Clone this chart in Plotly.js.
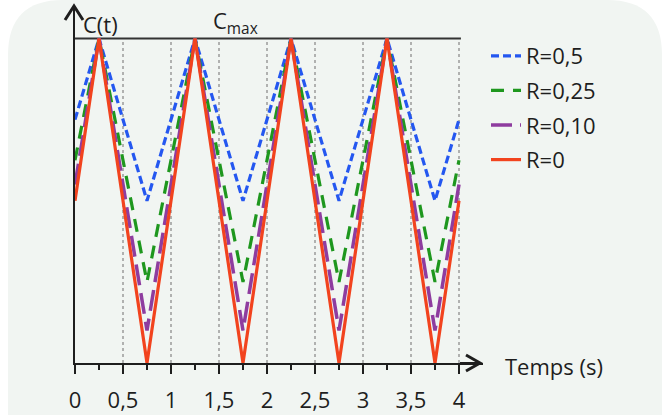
<!DOCTYPE html>
<html>
<head>
<meta charset="utf-8">
<script src="https://cdn.plot.ly/plotly-3.0.1.min.js"></script>
<style>html,body{margin:0;padding:0;background:#fff;}#chart{width:667px;height:418px;}</style>
</head>
<body>
<div id="chart"></div>
<script>
// ---- data ----
const timeS = [0, 0.25, 0.75, 1.25, 1.75, 2.25, 2.75, 3.25, 3.75, 4];
const cR050 = [0.75, 1, 0.5, 1, 0.5, 1, 0.5, 1, 0.5, 0.75];
const cR025 = [0.625, 1, 0.25, 1, 0.25, 1, 0.25, 1, 0.25, 0.625];
const cR010 = [0.55, 1, 0.1, 1, 0.1, 1, 0.1, 1, 0.1, 0.55];
const cR000 = [0.5, 1, 0, 1, 0, 1, 0, 1, 0, 0.5];
const seriesNames = ['R=0,5', 'R=0,25', 'R=0,10', 'R=0'];
const tickVals = [0, 0.5, 1, 1.5, 2, 2.5, 3, 3.5, 4];
const tickLabels = ['0', '0,5', '1', '1,5', '2', '2,5', '3', '3,5', '4'];
const minorVals = [0.25, 0.75, 1.25, 1.75, 2.25, 2.75, 3.25, 3.75];
const gridVals = [0.5, 1, 1.5, 2, 2.5, 3, 3.5, 4];
const cMax = 1;

// ---- layout geometry (pixels) ----
const W = 667, H = 418;
const L = 75, T = 5, PW = 408, PH = 358;
const X = p => (p - L) / PW;
const Y = p => (T + PH - p) / PH;
const FONT = 'Open Sans, sans-serif';
const INK = '#1e1e1e';

const traces = [
  {x: timeS, y: cR050, name: seriesNames[0], line: {color: '#2457F0', width: 3.2, dash: '8px,4px'}},
  {x: timeS, y: cR025, name: seriesNames[1], line: {color: '#1E971E', width: 3.2, dash: '13px,9px'}},
  {x: timeS, y: cR010, name: seriesNames[2], line: {color: '#8E3C9F', width: 3.5, dash: '21px,8px'}},
  {x: timeS, y: cR000, name: seriesNames[3], line: {color: '#F2431E', width: 3.2}}
].map((t, i) => Object.assign(t, {type: 'scatter', mode: 'lines', legendgroup: 'g' + i, hoverinfo: 'skip'}));

function cardPath() {
  const x0 = X(8), x1 = X(662), y0 = Y(0), y1 = Y(415);
  const rx = 55 / PW, ry = 55 / PH;
  return `M${x0},${y1} L${x0},${y0 - ry} Q${x0},${y0} ${x0 + rx},${y0} L${x1 - rx},${y0} Q${x1},${y0} ${x1},${y0 - ry} L${x1},${y1} Z`;
}

const shapes = [
  {type: 'path', xref: 'paper', yref: 'paper', path: cardPath(), fillcolor: '#F1F5F2', line: {width: 0}, layer: 'below'}
];
gridVals.forEach(v => shapes.push({type: 'line', xref: 'x', yref: 'y', x0: v, x1: v, y0: 0, y1: cMax,
  line: {color: '#9a9a9a', width: 1.5, dash: 'dot'}, layer: 'below'}));
shapes.push({type: 'line', xref: 'x', yref: 'y', x0: 0, x1: 4.02, y0: cMax, y1: cMax, line: {color: '#333', width: 2}, layer: 'below'});
// arrow heads
shapes.push({type: 'path', xref: 'paper', yref: 'paper',
  path: `M${X(65)},${Y(20)} L${X(74)},${Y(6)} L${X(83)},${Y(20)}`, line: {color: INK, width: 3}});
shapes.push({type: 'path', xref: 'paper', yref: 'paper',
  path: `M${X(466)},${Y(355)} L${X(480)},${Y(363)} L${X(466)},${Y(371)}`, line: {color: INK, width: 3}});
shapes.push({type: 'line', xref: 'paper', yref: 'paper', x0: X(460), x1: X(479), y0: Y(363), y1: Y(363), line: {color: INK, width: 2}});

const annotations = [
  {xref: 'paper', yref: 'paper', x: X(81), y: Y(24), xanchor: 'left', yanchor: 'middle', text: 'C(t)', showarrow: false, font: {family: FONT, size: 22, color: INK}},
  {xref: 'paper', yref: 'paper', x: X(211), y: Y(22), xanchor: 'left', yanchor: 'middle', text: 'C<sub>max</sub>', showarrow: false, font: {family: FONT, size: 22, color: INK}},
  {xref: 'paper', yref: 'paper', x: X(503), y: Y(366), xanchor: 'left', yanchor: 'middle', text: 'Temps (s)', showarrow: false, font: {family: FONT, size: 22, color: INK}}
];

const layout = {
  width: W, height: H,
  margin: {l: L, t: T, r: W - L - PW, b: H - T - PH, pad: 0},
  paper_bgcolor: '#ffffff', plot_bgcolor: 'rgba(0,0,0,0)',
  font: {family: FONT, size: 22, color: INK},
  showlegend: true,
  legend: {x: X(486), y: Y(35), xanchor: 'left', yanchor: 'top', bgcolor: 'rgba(0,0,0,0)',
    font: {family: FONT, size: 22, color: INK}, traceorder: 'grouped', tracegroupgap: 3, itemclick: false},
  xaxis: {range: [0, PW / 96], showgrid: false, zeroline: false, showline: true, linecolor: INK, linewidth: 2,
    tickmode: 'array', tickvals: tickVals, ticktext: tickLabels, ticks: 'outside', ticklen: 9, tickwidth: 2, tickcolor: INK,
    ticklabelstandoff: 8, tickfont: {family: FONT, size: 22, color: INK},
    minor: {tickmode: 'array', tickvals: minorVals, ticks: 'outside', ticklen: 5, tickwidth: 2, tickcolor: INK, showgrid: false},
    fixedrange: true},
  yaxis: {range: [0, PH / 324.5], showgrid: false, zeroline: false, showline: true, linecolor: INK, linewidth: 2,
    showticklabels: false, ticks: '', fixedrange: true},
  shapes: shapes,
  annotations: annotations
};

Plotly.newPlot('chart', traces, layout, {displayModeBar: false, staticPlot: true});
</script>
</body>
</html>
